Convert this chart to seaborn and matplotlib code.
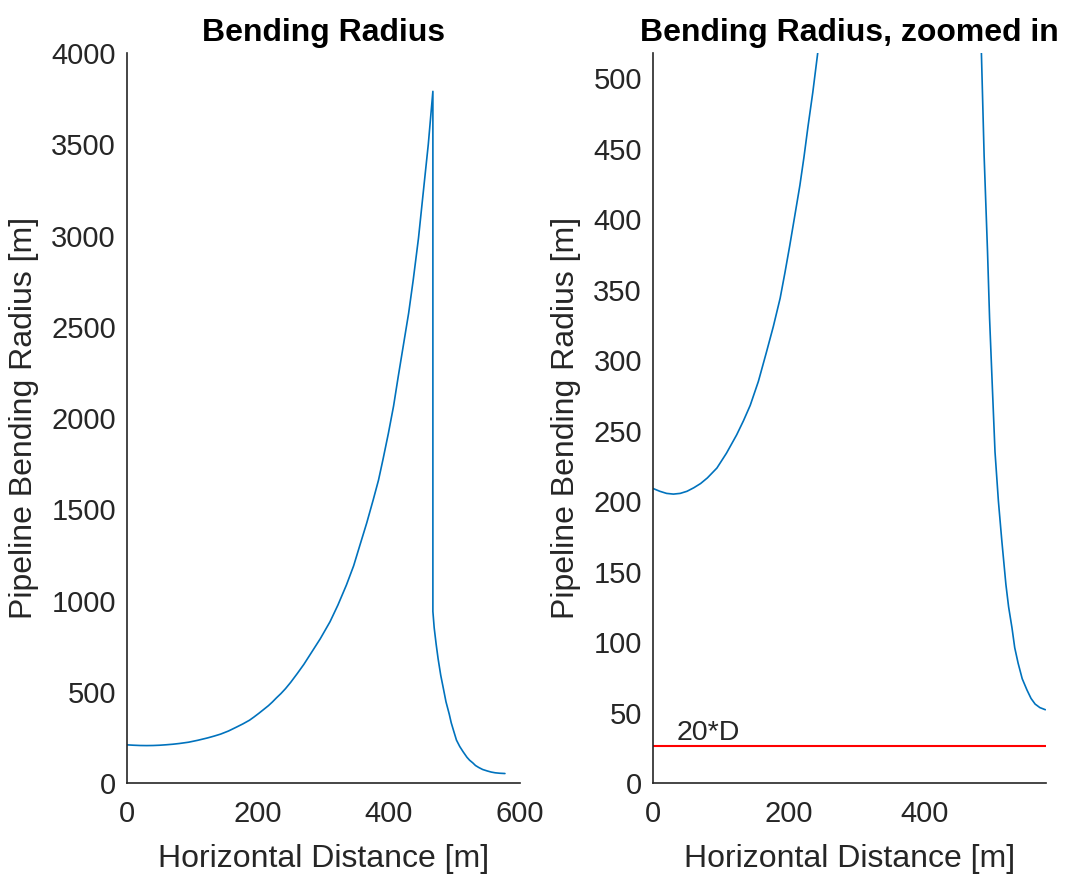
import numpy as np
import pandas as pd
import matplotlib
matplotlib.use("Agg")
import matplotlib.pyplot as plt
import seaborn as sns

# ---- data ----
dist_m = [0, 10, 20, 30, 40, 50, 60, 70, 80, 94, 108, 123, 133, 143, 155, 167,
          177, 187, 194, 201, 208, 216, 222, 228, 235, 242, 250, 260, 270, 280,
          295, 310, 322, 335, 346, 356, 366, 376, 384, 391, 399, 407, 414, 422,
          430, 437, 445, 452, 460, 467,
          467, 469, 472, 475, 479, 483, 487, 492, 495, 499, 503, 508, 513, 519,
          523, 528, 532, 537, 543, 550, 556, 562, 569, 577]
radius_m = [209, 207, 205.5, 205, 205.5, 207, 209.5, 212.5, 216.5, 223.5, 234,
            247, 257, 268, 285, 306, 324, 344, 362, 381, 401, 424, 444, 466,
            490, 517, 552, 600, 650, 706, 790, 884, 975, 1085, 1190, 1308, 1425,
            1553, 1660, 1776, 1915, 2066, 2225, 2400, 2575, 2757, 2985, 3226,
            3500, 3790,
            940, 850, 760, 680, 590, 518, 445, 377, 330, 282, 235, 200, 172, 141,
            125, 110, 96, 85, 74, 66, 60, 56, 53.5, 52]
limit_20D = 26
limit_label = "20*D"

left_title = "Bending Radius"
right_title = "Bending Radius, zoomed in"
xlabel = "Horizontal Distance [m]"
ylabel = "Pipeline Bending Radius [m]"

left_xticks = [0, 200, 400, 600]
left_yticks = [0, 500, 1000, 1500, 2000, 2500, 3000, 3500, 4000]
right_xticks = [0, 200, 400]
right_yticks = [0, 50, 100, 150, 200, 250, 300, 350, 400, 450, 500]

df = pd.DataFrame({"x": dist_m, "r": radius_m})

sns.set_theme(style="white")
plt.rcParams["font.family"] = ["Liberation Sans", "DejaVu Sans"]

BLUE = "#0072BD"
AX = "#262626"

fig = plt.figure(figsize=(10.67, 8.74), dpi=100)
axL = fig.add_axes([127 / 1067, 91 / 874, 393 / 1067, 730 / 874])
axR = fig.add_axes([653 / 1067, 91 / 874, 393 / 1067, 730 / 874])

for ax in (axL, axR):
    sns.lineplot(data=df, x="x", y="r", sort=False, estimator=None,
                 color=BLUE, linewidth=1.2, ax=ax)
    ax.spines["top"].set_visible(False)
    ax.spines["right"].set_visible(False)
    for s in ("left", "bottom"):
        ax.spines[s].set_color(AX)
        ax.spines[s].set_linewidth(1.2)
    ax.tick_params(direction="in", length=6, width=1.2, color=AX,
                   labelsize=21, labelcolor=AX)
    ax.tick_params(axis="x", pad=12)
    ax.tick_params(axis="y", pad=8)
    ax.set_xlabel(xlabel, fontsize=23, color=AX, labelpad=12)
    ax.set_ylabel(ylabel, fontsize=23, color=AX, labelpad=9)

axL.set_xlim(0, 600)
axL.set_ylim(0, 4000)
axL.set_xticks(left_xticks)
axL.set_yticks(left_yticks)
axL.set_title(left_title, fontsize=23, fontweight="bold", color="black", pad=9)

axR.set_xlim(0, 578)
axR.set_ylim(0, 518)
axR.set_xticks(right_xticks)
axR.set_yticks(right_yticks)
axR.axhline(limit_20D, color="#FF0000", linewidth=1.5)
axR.text(35, limit_20D + 0.5, limit_label, fontsize=20.5, color=AX,
         ha="left", va="bottom")
axR.set_title(right_title, fontsize=23, fontweight="bold", color="black", pad=9)

fig.savefig("out.png", dpi=100)
